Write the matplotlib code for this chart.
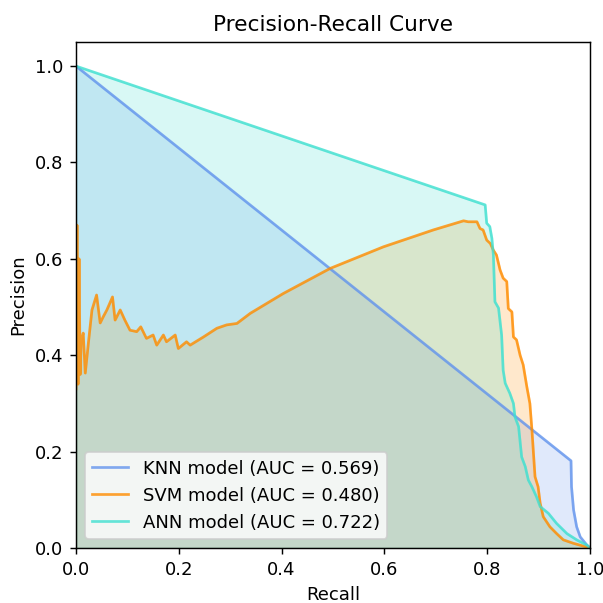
import matplotlib
matplotlib.use("Agg")
import matplotlib.pyplot as plt

# values
knn_recall = [0.0, 0.963, 0.964, 0.968, 0.974, 0.981, 0.994, 1.0]
knn_precision = [1.0, 0.181, 0.127, 0.079, 0.044, 0.023, 0.006, 0.0]

svm_recall = [0.0, 0.002, 0.004, 0.006, 0.008, 0.010, 0.014, 0.018, 0.024, 0.031,
              0.040, 0.047, 0.053, 0.060, 0.071, 0.076, 0.086, 0.095, 0.105, 0.118,
              0.126, 0.137, 0.150, 0.157, 0.170, 0.176, 0.193, 0.199, 0.215, 0.222,
              0.248, 0.274, 0.293, 0.313, 0.339, 0.403, 0.494, 0.598, 0.695, 0.754,
              0.763, 0.780, 0.786, 0.792, 0.799, 0.806, 0.812, 0.818, 0.825, 0.831,
              0.838, 0.841, 0.848, 0.851, 0.857, 0.864, 0.870, 0.877, 0.883, 0.887,
              0.890, 0.893, 0.899, 0.903, 0.909, 0.922, 0.935, 0.948, 0.967, 0.987, 1.0]
svm_precision = [0.33, 0.67, 0.34, 0.60, 0.36, 0.43, 0.446, 0.363, 0.425, 0.494,
                 0.525, 0.467, 0.480, 0.494, 0.521, 0.473, 0.494, 0.473, 0.452, 0.449,
                 0.459, 0.435, 0.442, 0.421, 0.442, 0.428, 0.442, 0.414, 0.428, 0.421,
                 0.438, 0.456, 0.463, 0.466, 0.487, 0.528, 0.580, 0.625, 0.660, 0.679,
                 0.677, 0.677, 0.663, 0.660, 0.639, 0.632, 0.618, 0.608, 0.577, 0.560,
                 0.553, 0.497, 0.490, 0.438, 0.432, 0.400, 0.380, 0.335, 0.300, 0.245,
                 0.196, 0.148, 0.127, 0.093, 0.065, 0.044, 0.030, 0.017, 0.010, 0.004, 0.0]

ann_recall = [0.0, 0.796, 0.799, 0.805, 0.809, 0.812, 0.815, 0.822, 0.828, 0.831,
              0.835, 0.844, 0.851, 0.854, 0.861, 0.867, 0.874, 0.880, 0.887, 0.896,
              0.903, 0.919, 0.935, 0.955, 0.974, 0.994, 1.0]
ann_precision = [1.0, 0.712, 0.674, 0.667, 0.643, 0.608, 0.511, 0.498, 0.442, 0.369,
                 0.342, 0.321, 0.300, 0.272, 0.252, 0.189, 0.169, 0.141, 0.127, 0.106,
                 0.086, 0.072, 0.051, 0.030, 0.017, 0.006, 0.0]

models = ["KNN", "SVM", "ANN"]
aucs = [0.569, 0.480, 0.722]
colors = ["cornflowerblue", "darkorange", "turquoise"]
curves = [(knn_recall, knn_precision), (svm_recall, svm_precision), (ann_recall, ann_precision)]

# the reference looks like a 100 dpi figure blown up ~1.3x
fig = plt.figure(figsize=(603 / 130, 603 / 130), dpi=130)
ax = fig.add_axes([76 / 603, 55 / 603, 514 / 603, 506 / 603])

for name, auc, c, (r, p) in zip(models, aucs, colors, curves):
    ax.plot(r, p, color=c, lw=1.5, alpha=0.8, label="%s model (AUC = %.3f)" % (name, auc))
    ax.fill_between(r, p, color=c, alpha=0.2)

ax.set_xlim(0, 1)
ax.set_ylim(0, 1.05)
ax.set_xlabel("Recall")
ax.set_ylabel("Precision")
ax.set_title("Precision-Recall Curve")
ax.legend(loc="lower left")

fig.savefig("out.png", dpi=130)
